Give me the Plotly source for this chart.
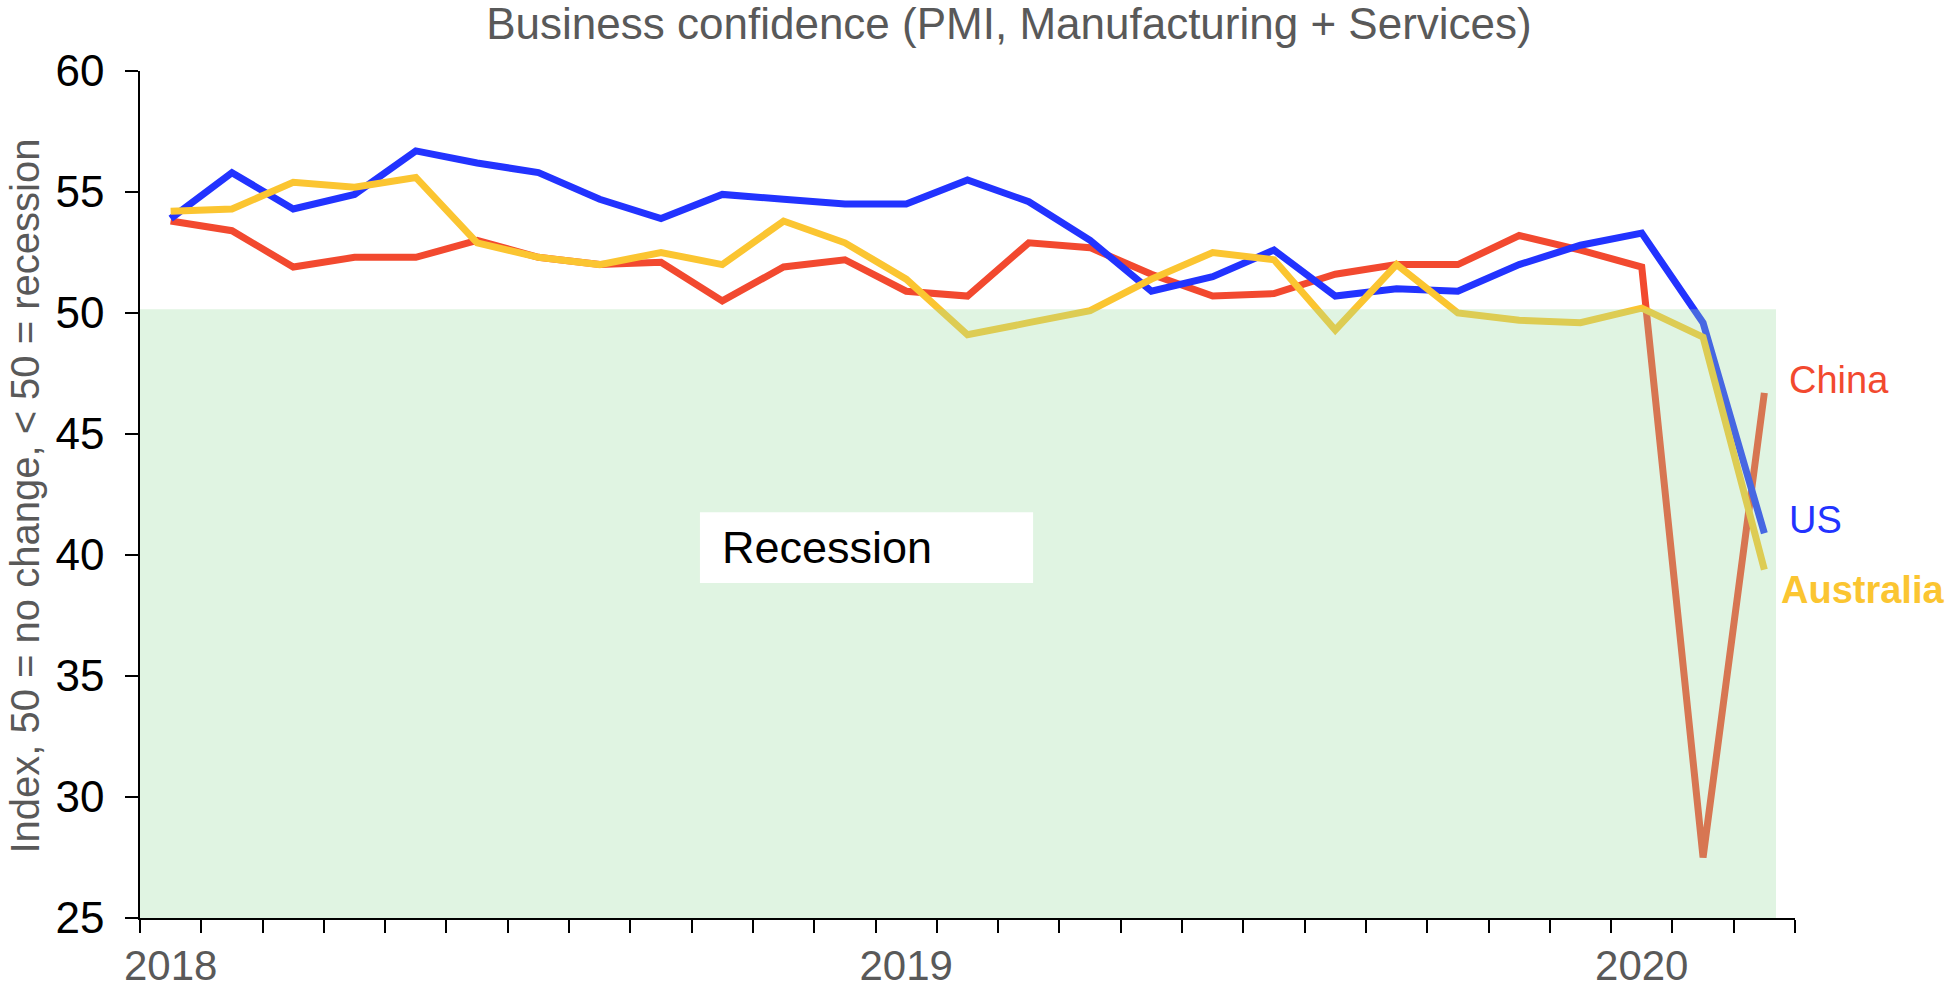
import plotly.graph_objects as go

months = [f"{y}-{m:02d}" for y in (2018, 2019, 2020) for m in range(1, 13)][:27]
year_labels = ["2018", "2019", "2020"]
year_positions = [months.index("2018-01"), months.index("2019-01"), months.index("2020-01")]

us = [53.9, 55.8, 54.3, 54.9, 56.7, 56.2, 55.8, 54.7, 53.9, 54.9, 54.7, 54.5, 54.5,
      55.5, 54.6, 53.0, 50.9, 51.5, 52.6, 50.7, 51.0, 50.9, 52.0, 52.8, 53.3, 49.6, 40.9]
china = [53.8, 53.4, 51.9, 52.3, 52.3, 53.0, 52.3, 52.0, 52.1, 50.5, 51.9, 52.2, 50.9,
         50.7, 52.9, 52.7, 51.6, 50.7, 50.8, 51.6, 52.0, 52.0, 53.2, 52.6, 51.9, 27.5, 46.7]
australia = [54.2, 54.3, 55.4, 55.2, 55.6, 52.9, 52.3, 52.0, 52.5, 52.0, 53.8, 52.9, 51.4,
             49.1, 49.6, 50.1, 51.4, 52.5, 52.2, 49.3, 52.0, 50.0, 49.7, 49.6, 50.2, 49.0, 39.4]

y_ticks = [25, 30, 35, 40, 45, 50, 55, 60]

RED = "#F2492F"
BLUE = "#2233FF"
YELLOW = "#FBC531"
FONT = "Liberation Sans, Arial, sans-serif"

x = list(range(len(months)))

fig = go.Figure()
for name, vals, col in [("China", china, RED), ("US", us, BLUE), ("Australia", australia, YELLOW)]:
    fig.add_trace(go.Scatter(x=x, y=vals, mode="lines", name=name,
                             line=dict(color=col, width=7), showlegend=False,
                             hoverinfo="skip"))

# recession band (semi-transparent, drawn over the lines)
fig.add_shape(type="rect", xref="x", yref="y", x0=-0.58, x1=26.19, y0=25, y1=50.15,
              fillcolor="rgb(155,219,161)", opacity=0.31, line=dict(width=0), layer="above")
# white label box
fig.add_shape(type="rect", xref="x", yref="y", x0=8.635, x1=14.07, y0=38.84, y1=41.77,
              fillcolor="white", line=dict(width=0), layer="above")
fig.add_annotation(x=8.96, y=40.3, xref="x", yref="y", text="Recession", showarrow=False,
                   xanchor="left", yanchor="middle", font=dict(size=45, color="black", family=FONT))

# series labels
fig.add_annotation(x=26.37, y=47.22, xref="x", yref="y", text="China", showarrow=False,
                   xanchor="left", yanchor="middle", font=dict(size=38, color=RED, family=FONT))
fig.add_annotation(x=26.37, y=41.44, xref="x", yref="y", text="US", showarrow=False,
                   xanchor="left", yanchor="middle", font=dict(size=38, color=BLUE, family=FONT))
fig.add_annotation(x=26.24, y=38.55, xref="x", yref="y", text="<b>Australia</b>", showarrow=False,
                   xanchor="left", yanchor="middle", font=dict(size=38, color=YELLOW, family=FONT))

# y-axis title
fig.add_annotation(x=-0.0695, y=0.4987, xref="paper", yref="paper",
                   text="Index, 50 = no change, < 50 = recession", textangle=-90,
                   showarrow=False, xanchor="center", yanchor="middle",
                   font=dict(size=40, color="#595959", family=FONT))

W, H = 1948, 990
fig.update_layout(
    width=W, height=H,
    margin=dict(l=140, r=153, t=71, b=72, autoexpand=False),
    paper_bgcolor="white", plot_bgcolor="white",
    title=dict(text="Business confidence (PMI, Manufacturing + Services)",
               x=1009 / W, xanchor="center",
               y=1 - 24 / H, yanchor="middle",
               font=dict(size=44, color="#595959", family=FONT)),
    xaxis=dict(range=[-0.5, 26.5], tickmode="array", tickvals=year_positions, ticktext=year_labels,
               ticks="outside", ticklen=10, tickcolor="rgba(0,0,0,0)",
               showgrid=False, zeroline=False, showline=True, linecolor="black", linewidth=1.5,
               tickfont=dict(size=42, color="#595959", family=FONT),
               minor=dict(tickmode="array", tickvals=[i - 0.5 for i in range(len(months) + 1)],
                          ticks="outside", ticklen=13, tickcolor="black", tickwidth=1.5, showgrid=False),
               fixedrange=True),
    yaxis=dict(range=[25, 60], tickmode="array", tickvals=y_ticks,
               ticks="outside", ticklen=13, tickcolor="black", tickwidth=1.5,
               ticklabelstandoff=12,
               showgrid=False, zeroline=False, showline=True, linecolor="black", linewidth=1.5,
               tickfont=dict(size=44, color="black", family=FONT), fixedrange=True),
)

fig.write_html("out.html", config={"displayModeBar": False},
               post_script="document.body.style.margin='0';document.body.style.overflow='hidden';")
